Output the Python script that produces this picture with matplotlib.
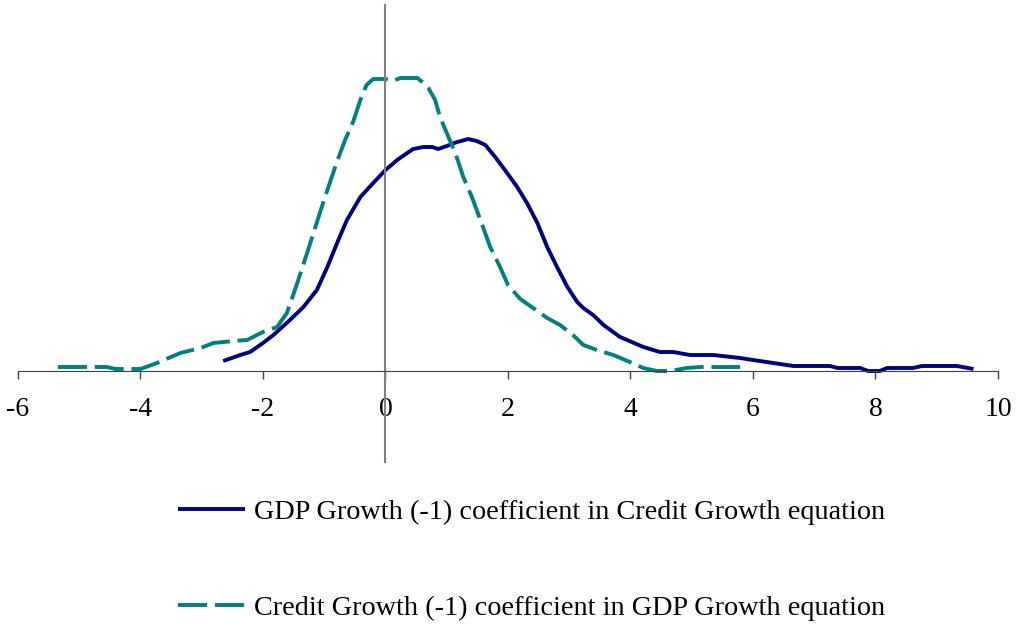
import matplotlib.pyplot as plt

# kernel densities of the two coefficients (y, arbitrary scale)
gdp_x = [-2.65, -2.37, -2.21, -2.0, -1.83, -1.56, -1.34, -1.12, -0.95, -0.79, -0.63,
         -0.41, -0.2, 0.0, 0.19, 0.45, 0.62, 0.76, 0.86, 1.0, 1.17, 1.35, 1.49, 1.63,
         1.79, 1.95, 2.15, 2.31, 2.48, 2.64, 2.8, 2.97, 3.13, 3.23, 3.39, 3.56, 3.83,
         4.21, 4.48, 4.7, 4.97, 5.35, 5.79, 6.0, 6.66, 7.26, 7.38, 7.75, 7.88, 8.07,
         8.19, 8.61, 8.76, 9.33, 9.6]
gdp_y = [0.010, 0.016, 0.019, 0.028, 0.036, 0.051, 0.064, 0.081, 0.104, 0.128, 0.151,
         0.174, 0.188, 0.201, 0.211, 0.222, 0.224, 0.224, 0.222, 0.225, 0.229, 0.232,
         0.230, 0.226, 0.214, 0.201, 0.184, 0.168, 0.148, 0.124, 0.104, 0.084, 0.069,
         0.063, 0.056, 0.046, 0.034, 0.024, 0.019, 0.019, 0.016, 0.016, 0.013, 0.011,
         0.005, 0.005, 0.003, 0.003, 0.000, 0.000, 0.003, 0.003, 0.005, 0.005, 0.002]

credit_x = [-5.35, -4.55, -4.41, -4.0, -3.73, -3.35, -3.02, -2.81, -2.48, -2.26, -2.0,
            -1.77, -1.61, -1.44, -1.28, -1.15, -1.02, -0.8, -0.66, -0.53, -0.41, -0.31,
            -0.2, 0.0, 0.12, 0.24, 0.52, 0.6, 0.7, 0.81, 0.89, 1.0, 1.14, 1.27, 1.41,
            1.55, 1.71, 1.87, 2.0, 2.2, 2.41, 2.64, 2.85, 3.06, 3.23, 3.45, 3.72, 3.99,
            4.21, 4.43, 4.65, 4.92, 5.14, 5.79]
credit_y = [0.004, 0.004, 0.002, 0.002, 0.008, 0.018, 0.023, 0.028, 0.030, 0.031, 0.039,
            0.044, 0.058, 0.088, 0.118, 0.143, 0.168, 0.208, 0.231, 0.249, 0.271, 0.286,
            0.292, 0.292, 0.290, 0.293, 0.293, 0.289, 0.283, 0.271, 0.254, 0.238, 0.218,
            0.194, 0.174, 0.151, 0.124, 0.104, 0.086, 0.072, 0.063, 0.053, 0.046, 0.036,
            0.026, 0.021, 0.016, 0.009, 0.003, 0.000, 0.000, 0.003, 0.004, 0.004]

x_ticks = [-6, -4, -2, 0, 2, 4, 6, 8, 10]
labels = ['GDP Growth (-1) coefficient in Credit Growth equation',
          'Credit Growth (-1) coefficient in GDP Growth equation']


def main():
    plt.rcParams['font.family'] = ['Liberation Serif', 'DejaVu Serif']
    plt.rcParams['axes.unicode_minus'] = False
    fig = plt.figure(figsize=(10.16, 6.3), dpi=100)
    ax = fig.add_axes([18 / 1016, 168 / 630, 980 / 1016, 457 / 630])

    l1, = ax.plot(gdp_x, gdp_y, color='#000080', lw=2.8, solid_capstyle='butt')
    l2, = ax.plot(credit_x, credit_y, color='#008080', lw=2.8, dashes=(7.5, 2))

    ax.set_xlim(-6, 10)
    ax.set_ylim(-0.091, 0.366)
    ax.set_xticks(x_ticks)
    ax.set_yticks([])

    ax.spines['top'].set_visible(False)
    ax.spines['right'].set_visible(False)
    ax.spines['bottom'].set_position(('data', 0))
    ax.spines['bottom'].set_color('#404040')
    ax.spines['left'].set_position(('data', 0))
    ax.spines['left'].set_color('#808080')
    ax.spines['left'].set_linewidth(1.5)
    ax.tick_params(axis='x', direction='out', length=6, width=1, color='#404040',
                   pad=13, labelsize=20)

    fig.legend([l1, l2], labels, loc='upper left', bbox_to_anchor=(153 / 1016, 1 - 474 / 630),
               frameon=False, fontsize=20.3, handlelength=2.35, handletextpad=0.35,
               labelspacing=2.5)

    fig.savefig('out.png', dpi=100)


if __name__ == "__main__":
    main()
